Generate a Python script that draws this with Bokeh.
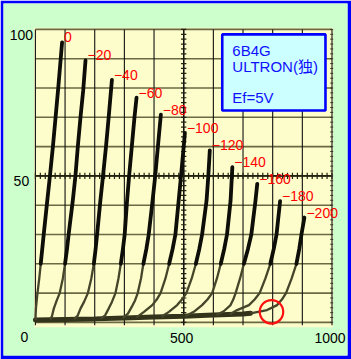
import numpy as np
from bokeh.plotting import figure
from bokeh.models import Range1d
from bokeh.core.properties import value
from bokeh.embed import file_html
from bokeh.resources import INLINE

# ---------------- data (plate voltage V, plate current mA) ----------------
grid_bias = ["0", "−20", "−40", "−60", "−80", "−100", "−120", "−140", "−160", "−180", "−200"]

v_0 = [0, 2, 7, 13, 18, 23, 28, 40, 49, 59, 68, 77, 90]
i_0 = [0.8, 5, 10, 15, 20, 25, 30, 41.5, 50, 60, 70, 80, 95.6]

v_20 = [50, 56, 62, 72, 82, 92.5, 100, 106.5, 112, 126, 135, 143, 152, 161, 169]
i_20 = [0.95, 2.2, 4.7, 7.5, 10, 15, 20, 25, 30, 41.5, 50, 60, 70, 79, 89.4]

v_40 = [130, 142, 152, 164, 177, 188.5, 197, 203, 208, 219, 228, 238, 247, 258]
i_40 = [1.15, 2.2, 4.7, 7.0, 10, 15, 20, 25, 30, 41.5, 50, 60, 70, 82.8]

v_60 = [220, 235, 247, 258, 270, 280, 288, 295, 301, 309, 316, 325, 334, 341]
i_60 = [1.3, 2.4, 4.7, 7.0, 10, 15, 20, 25, 30, 41.5, 50, 60, 70, 76.7]

v_80 = [295, 312, 328, 336, 345, 356, 364, 374, 382, 395, 404, 413, 423]
i_80 = [1.5, 3.0, 5.9, 7.5, 10, 15, 20, 25, 30, 41.5, 50, 60, 70.9]

v_100 = [340, 366, 394, 409, 422, 438.5, 451, 462.5, 472, 483, 491, 500, 504]
i_100 = [1.6, 3.6, 5.9, 7.8, 10, 15, 20, 25, 30, 41.5, 50, 60, 64.6]

v_120 = [425, 450, 478, 494, 509, 527, 541, 552.5, 562, 577, 583, 588]
i_120 = [1.9, 3.6, 5.9, 7.8, 10, 15, 20, 25, 30, 41.5, 50, 58.7]

v_140 = [505, 534, 562, 580, 596, 612, 625, 636.5, 646, 658, 664]
i_140 = [2.1, 3.6, 5.9, 7.8, 10, 15, 20, 25, 30, 41.5, 53.0]

v_160 = [610, 635, 658, 667, 675, 690, 703, 716.5, 728, 742, 748]
i_160 = [2.55, 3.8, 5.9, 7.8, 10, 15, 20, 25, 30, 41.5, 47.3]

v_180 = [655, 680, 720, 739, 756, 775.5, 792, 803.5, 813, 825]
i_180 = [2.7, 4.2, 5.9, 7.8, 10, 15, 20, 25, 30, 41.4]

v_200 = [725, 781, 815, 831, 845, 864, 880, 889.5, 897, 907]
i_200 = [3.1, 4.2, 5.9, 7.8, 10, 15, 20, 25, 30, 35.8]

# common cut-off foot shared by all curves
base_v = [0, 100, 200, 300, 400, 500, 600, 700, 725]
base_i = [0.8, 1.0, 1.2, 1.5, 1.8, 2.1, 2.5, 2.9, 3.1]

# highlighted point (red circle)
mark_v = [796]
mark_i = [3.6]

x_ticks = [0, 500, 1000]
x_tick_labels = ["0", "500", "1000"]
y_ticks = [50, 100]
y_tick_labels = ["50", "100"]

legend_lines = ["6B4G", "ULTRON(独)", "", "Ef=5V"]

curves_v = [v_0, v_20, v_40, v_60, v_80, v_100, v_120, v_140, v_160, v_180, v_200]
curves_i = [i_0, i_20, i_40, i_60, i_80, i_100, i_120, i_140, i_160, i_180, i_200]

# ---------------- figure ----------------
p = figure(width=351, height=359,
           x_range=Range1d(-107.55, 1052.26), y_range=Range1d(-11.30, 108.84),
           output_backend="svg", toolbar_location=None,
           x_axis_location=None, y_axis_location=None,
           min_border_left=3, min_border_right=4, min_border_top=3, min_border_bottom=4,
           border_fill_color="#0000ff", background_fill_color="#ccffcc",
           outline_line_color=None)
p.grid.visible = False

# graph paper
p.quad(left=[-4.7], right=[1004], bottom=[-1.64], top=[100.55],
       fill_color="#fdfccb", line_color=None)

hgrid = list(range(0, 101, 10))
vgrid = list(range(0, 1001, 100))
p.segment(x0=[0] * len(hgrid), x1=[1000] * len(hgrid), y0=hgrid, y1=hgrid,
          line_color="#5a5a34", line_width=1.6, line_alpha=0.9)
p.segment(x0=vgrid, x1=vgrid, y0=[-1.0] * len(vgrid), y1=[100] * len(vgrid),
          line_color="#111111", line_width=1.1)
# centre cross lines
p.segment(x0=[0], x1=[1000], y0=[50], y1=[50], line_color="#222211", line_width=1.8)
p.segment(x0=[500], x1=[500], y0=[-1.0], y1=[100], line_color="#111111", line_width=1.4)

# minor ticks on the centre lines and the right edge
tx = np.arange(0, 1000.1, 100 / 6)
p.segment(x0=tx, x1=tx, y0=50 - 1.1, y1=50 + 1.1, line_color="#222211", line_width=1.2)
ty = np.arange(0, 100.1, 10 / 6)
p.segment(x0=500 - 9, x1=500 + 9, y0=ty, y1=ty, line_color="#222211", line_width=1.2)
p.segment(x0=1000 - 6, x1=1000 + 4, y0=ty, y1=ty, line_color="#333322", line_width=1.0)

# plate curves
p.line(base_v, base_i, line_color="#33331b", line_width=5, line_cap="round")
for vv, ii in zip(curves_v, curves_i):
    p.line(vv, ii, line_color="#45452a", line_width=2.3, line_join="round")
    up_v = [a for a, b in zip(vv, ii) if b >= 20]
    up_i = [b for b in ii if b >= 20]
    p.line(up_v, up_i, line_color="#0e0e08", line_width=3.8, line_join="round", line_cap="round")

# curve labels at the top end of each curve
top_v = [vv[-1] for vv in curves_v]
top_i = [ii[-1] for ii in curves_i]
p.text(x=top_v, y=top_i, text=grid_bias, x_offset=2, y_offset=-5,
       text_color="#ff0000", text_font=value("Liberation Sans"), text_font_size="14px",
       text_align="left", text_baseline="middle")

# red circle
p.scatter(mark_v, mark_i, marker="circle", size=23.5, fill_color=None,
          line_color="#ff1010", line_width=2.2)

# tick labels
p.text(x=x_ticks[1:], y=[0] * 2, text=x_tick_labels[1:], x_offset=-2, y_offset=15.5,
       text_color="#000000", text_font=value("Liberation Sans"), text_font_size="14px",
       text_align="center", text_baseline="middle")
p.text(x=x_ticks[:1], y=[0], text=x_tick_labels[:1], x_offset=-11, y_offset=15,
       text_color="#000000", text_font=value("Liberation Sans"), text_font_size="14px",
       text_align="center", text_baseline="middle")
p.text(x=[0] * len(y_ticks), y=y_ticks, text=y_tick_labels, x_offset=-14, y_offset=5.5,
       text_color="#000000", text_font=value("Liberation Sans"), text_font_size="14px",
       text_align="center", text_baseline="middle")

# info box
p.quad(left=[630], right=[978], bottom=[72.3], top=[98.3],
       fill_color="#ccffff", line_color="#0000ff", line_width=2.6)
for k, line in enumerate(legend_lines):
    if line:
        p.text(x=[664], y=[98.3], text=[line], x_offset=0, y_offset=16 + 15.8 * k,
               text_color="#1010ff", text_font=value("Liberation Sans, Noto Sans CJK JP"),
               text_font_size="15px", text_align="left", text_baseline="middle")

open("out.html", "w").write(file_html(p, INLINE))
